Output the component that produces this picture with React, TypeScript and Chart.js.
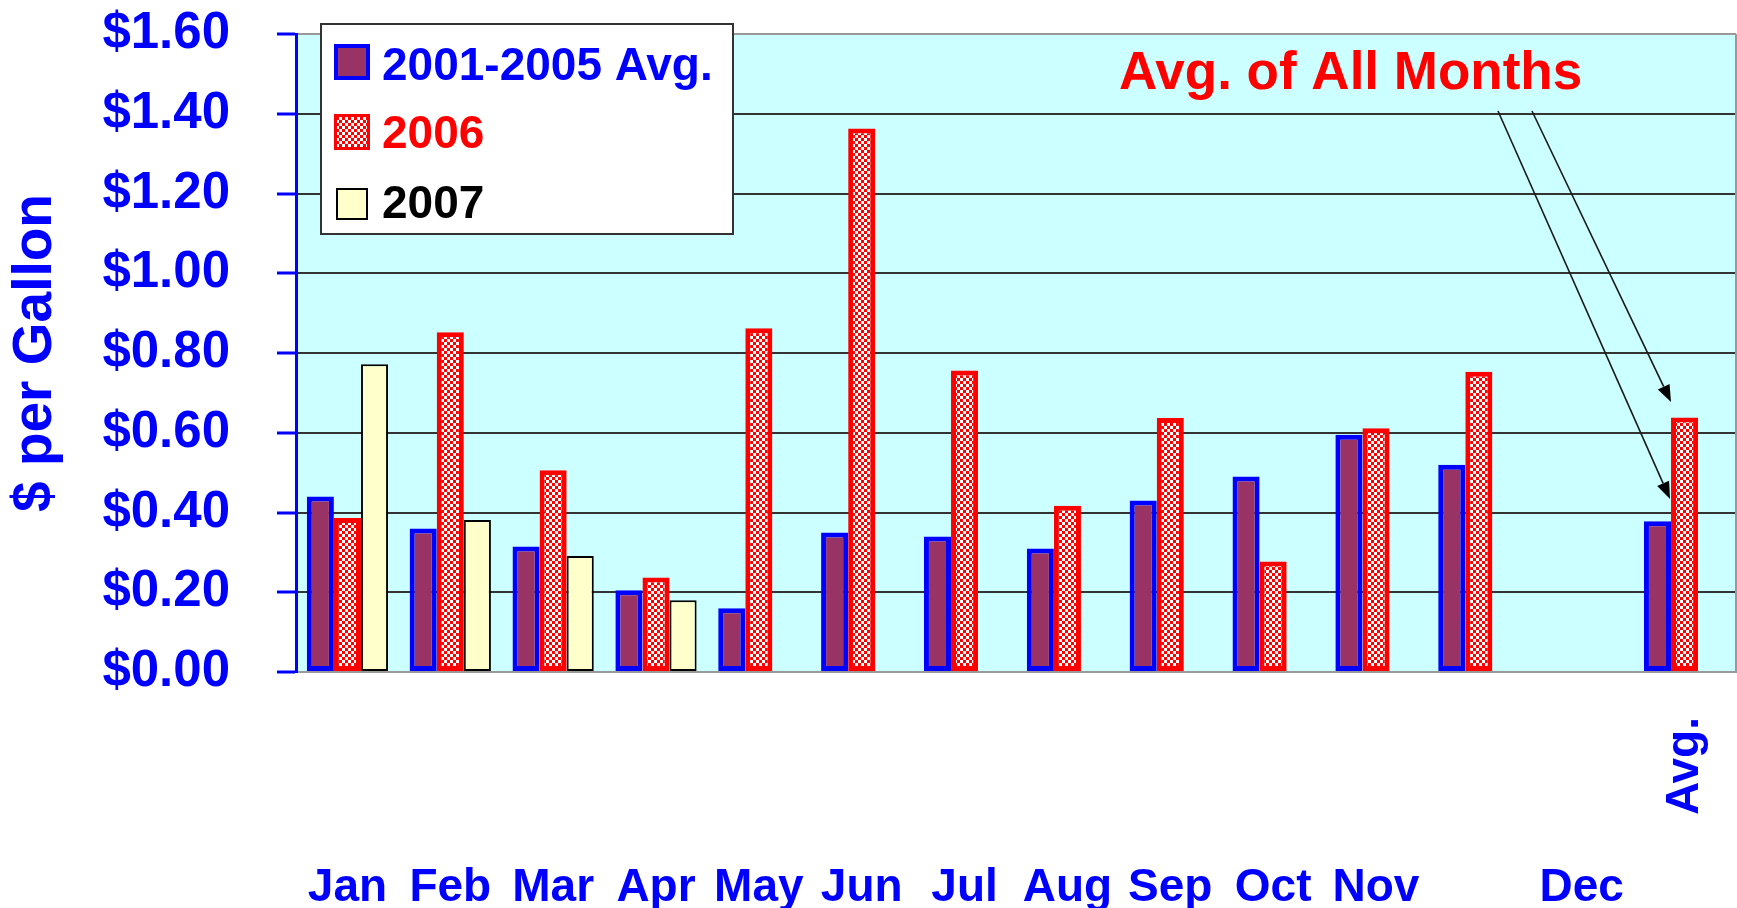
import React, { useEffect, useRef } from 'react';
import { Chart, registerables } from 'chart.js';

Chart.register(...registerables);

// ---- data ----
const categories = ['Jan', 'Feb', 'Mar', 'Apr', 'May', 'Jun', 'Jul', 'Aug', 'Sep', 'Oct', 'Nov', '', 'Dec', 'Avg.'];
const seriesNames = ['2001-2005 Avg.', '2006', '2007'];
const avg2001to2005 = [0.44, 0.36, 0.315, 0.205, 0.16, 0.35, 0.34, 0.31, 0.43, 0.49, 0.595, 0.52, null, 0.378];
const values2006 = [0.386, 0.852, 0.506, 0.237, 0.862, 1.363, 0.756, 0.417, 0.637, 0.277, 0.611, 0.753, null, 0.638];
const values2007 = [0.772, 0.381, 0.291, 0.18, null, null, null, null, null, null, null, null, null, null];
const yTickValues = [0, 0.2, 0.4, 0.6, 0.8, 1.0, 1.2, 1.4, 1.6];
const yTitle = '$ per Gallon';
const annotationText = 'Avg. of All Months';
const arrowTargets = [0.434, 0.677];

const FONT = "'Liberation Sans', Arial, Helvetica, sans-serif";
const BLUE = '#0000FF';
const RED = '#FF0000';

function makeChecker(): CanvasPattern | string {
  const c = document.createElement('canvas');
  c.width = 6;
  c.height = 6;
  const g = c.getContext('2d');
  if (!g) return RED;
  g.fillStyle = RED;
  g.fillRect(0, 0, 6, 6);
  g.fillStyle = '#FFFFFF';
  g.fillRect(0, 0, 3, 3);
  g.fillRect(3, 3, 3, 3);
  return g.createPattern(c, 'repeat') || RED;
}

function drawArrow(ctx: CanvasRenderingContext2D, x1: number, y1: number, x2: number, y2: number) {
  const ang = Math.atan2(y2 - y1, x2 - x1);
  const hl = 17;
  const hw = 6.5;
  const bx = x2 - hl * Math.cos(ang);
  const by = y2 - hl * Math.sin(ang);
  ctx.beginPath();
  ctx.moveTo(x1, y1);
  ctx.lineTo(bx, by);
  ctx.stroke();
  ctx.beginPath();
  ctx.moveTo(x2, y2);
  ctx.lineTo(bx + hw * Math.sin(ang), by - hw * Math.cos(ang));
  ctx.lineTo(bx - hw * Math.sin(ang), by + hw * Math.cos(ang));
  ctx.closePath();
  ctx.fill();
}

export default function App() {
  const ref = useRef<HTMLCanvasElement>(null);

  useEffect(() => {
    const canvas = ref.current;
    if (!canvas) return;
    const checker = makeChecker();

    const decor = {
      id: 'decor',
      beforeDraw(chart: any) {
        const { ctx, chartArea: a } = chart;
        ctx.save();
        ctx.fillStyle = '#CCFFFF';
        ctx.fillRect(a.left, a.top, a.right - a.left, a.bottom - a.top);
        ctx.restore();
      },
      afterDraw(chart: any) {
        const { ctx, chartArea: a, scales } = chart;
        const xs = scales.x;
        const ys = scales.y;
        ctx.save();
        // right border of plot area
        ctx.strokeStyle = '#999999';
        ctx.lineWidth = 2;
        ctx.beginPath();
        ctx.moveTo(a.right, a.top);
        ctx.lineTo(a.right, a.bottom);
        ctx.stroke();

        // category labels
        ctx.fillStyle = BLUE;
        ctx.font = `bold 46px ${FONT}`;
        categories.forEach((lab, i) => {
          if (!lab) return;
          const x = xs.getPixelForValue(i);
          if (i === categories.length - 1) {
            ctx.save();
            ctx.translate(x + 13, a.bottom + 143);
            ctx.rotate(-Math.PI / 2);
            ctx.textAlign = 'left';
            ctx.textBaseline = 'alphabetic';
            ctx.fillText(lab, 0, 0);
            ctx.restore();
          } else {
            ctx.textAlign = 'center';
            ctx.textBaseline = 'alphabetic';
            ctx.fillText(lab, x, a.bottom + 229);
          }
        });

        // legend
        const lx = 321, ly = 24, lw = 412, lh = 210;
        ctx.fillStyle = '#FFFFFF';
        ctx.fillRect(lx, ly, lw, lh);
        ctx.strokeStyle = '#333333';
        ctx.lineWidth = 2;
        ctx.strokeRect(lx, ly, lw, lh);
        const ds = chart.data.datasets;
        const textColors = [BLUE, RED, '#000000'];
        const rowBase = [80, 148, 218];
        const sw = [
          { x: 334, y: 44, s: 36 },
          { x: 334, y: 114, s: 36 },
          { x: 336, y: 188, s: 32 },
        ];
        ds.forEach((d: any, i: number) => {
          const b = sw[i];
          const bw = i === 0 ? 4 : i === 1 ? 3 : 2;
          ctx.fillStyle = d.borderColor;
          ctx.fillRect(b.x, b.y, b.s, b.s);
          ctx.fillStyle = d.backgroundColor;
          ctx.fillRect(b.x + bw, b.y + bw, b.s - 2 * bw, b.s - 2 * bw);
          ctx.fillStyle = textColors[i];
          ctx.font = `bold 46px ${FONT}`;
          ctx.textAlign = 'left';
          ctx.textBaseline = 'alphabetic';
          ctx.fillText(d.label, 382, rowBase[i]);
        });

        // annotation
        ctx.fillStyle = RED;
        ctx.font = `bold 53px ${FONT}`;
        ctx.textAlign = 'left';
        ctx.textBaseline = 'alphabetic';
        ctx.fillText(annotationText, 1119, 89);

        // arrows pointing at the average bars
        const meta = chart.getDatasetMeta(1);
        const el = meta.data[categories.length - 1];
        const tipX = el.x - el.width / 2;
        ctx.strokeStyle = '#1a1a1a';
        ctx.fillStyle = '#000000';
        ctx.lineWidth = 1.6;
        drawArrow(ctx, 1498, 111, tipX - 1, ys.getPixelForValue(arrowTargets[0]));
        drawArrow(ctx, 1532, 111, tipX, ys.getPixelForValue(arrowTargets[1]));
        ctx.restore();
      },
    };

    const chart = new Chart(canvas, {
      type: 'bar',
      data: {
        labels: categories,
        datasets: [
          {
            label: seriesNames[0],
            data: avg2001to2005,
            backgroundColor: '#993366',
            borderColor: BLUE,
            borderWidth: 5,
            borderSkipped: false,
          },
          {
            label: seriesNames[1],
            data: values2006,
            backgroundColor: checker as any,
            borderColor: RED,
            borderWidth: 5,
            borderSkipped: false,
          },
          {
            label: seriesNames[2],
            data: values2007,
            backgroundColor: '#FFFFCC',
            borderColor: '#000000',
            borderWidth: 2,
            borderSkipped: false,
          },
        ] as any,
      },
      options: {
        responsive: false,
        animation: false,
        devicePixelRatio: 1,
        layout: { padding: { top: 34, right: 1, left: 0, bottom: 0 } },
        datasets: { bar: { categoryPercentage: 0.79, barPercentage: 1 } },
        plugins: { legend: { display: false }, tooltip: { enabled: false } },
        scales: {
          x: {
            grid: { display: false },
            border: { color: '#999999', width: 2 },
            ticks: { display: false },
            afterFit: (s: any) => {
              s.height = 236;
              s.paddingLeft = 0;
              s.paddingRight = 0;
            },
          },
          y: {
            min: 0,
            max: 1.6,
            afterBuildTicks: (s: any) => {
              s.ticks = yTickValues.map((v) => ({ value: v }));
            },
            ticks: {
              color: BLUE,
              font: { family: FONT, size: 51, weight: 'bold' },
              padding: 47,
              callback: (v: any) => '$' + Number(v).toFixed(2),
            },
            grid: {
              color: (c: any) =>
                c.tick && (Math.abs(c.tick.value - 1.6) < 1e-6 || Math.abs(c.tick.value) < 1e-6) ? '#999999' : '#333333',
              lineWidth: 2,
              tickColor: BLUE,
              tickLength: 19,
              tickWidth: 3,
            },
            border: { color: BLUE, width: 3 },
            title: {
              display: true,
              text: yTitle,
              color: BLUE,
              font: { family: FONT, size: 55, weight: 'bold' },
              padding: { top: 3, bottom: 0 },
            },
            afterFit: (s: any) => {
              s.width = 296;
              s.paddingTop = 0;
              s.paddingBottom = 0;
            },
          },
        },
      } as any,
      plugins: [decor],
    });

    return () => chart.destroy();
  }, []);

  return (
    <div style={{ position: 'fixed', left: 0, top: 0, width: 1737, height: 908, background: '#FFFFFF' }}>
      <canvas ref={ref} width={1737} height={908} style={{ display: 'block', width: 1737, height: 908 }} />
    </div>
  );
}
